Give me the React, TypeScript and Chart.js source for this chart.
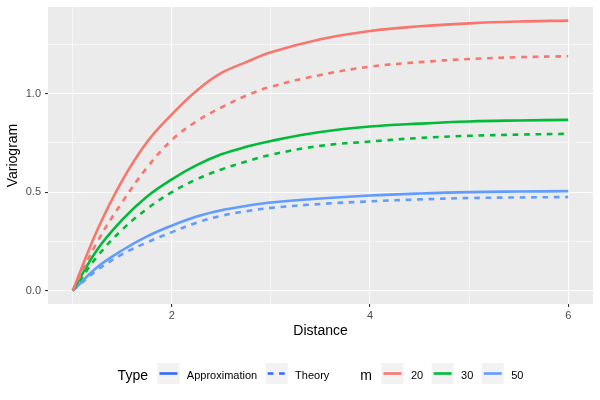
import React, { useEffect, useRef } from "react";
import { Chart, registerables } from "chart.js";

Chart.register(...registerables);

// Lag distances where the fitted variogram curves are sampled
const distance = [1, 1.25, 1.5, 1.75, 2, 2.25, 2.5, 2.75, 3, 3.5, 4, 4.5, 5, 5.5, 6];

// Variogram values per m: approximation vs. theoretical curve
const approx20 = [0, 0.31, 0.56, 0.755, 0.895, 1.015, 1.105, 1.16, 1.21, 1.276, 1.318, 1.342, 1.357, 1.366, 1.371];
const theory20 = [0, 0.25, 0.45, 0.625, 0.765, 0.86, 0.93, 0.99, 1.035, 1.095, 1.137, 1.16, 1.176, 1.185, 1.19];
const approx30 = [0, 0.21, 0.36, 0.478, 0.565, 0.637, 0.692, 0.73, 0.76, 0.805, 0.833, 0.848, 0.859, 0.864, 0.867];
const theory30 = [0, 0.175, 0.31, 0.415, 0.5, 0.565, 0.615, 0.655, 0.69, 0.735, 0.757, 0.775, 0.786, 0.792, 0.796];
const approx50 = [0, 0.12, 0.205, 0.275, 0.33, 0.376, 0.408, 0.43, 0.447, 0.468, 0.483, 0.493, 0.5, 0.503, 0.505];
const theory50 = [0, 0.105, 0.185, 0.245, 0.297, 0.345, 0.38, 0.403, 0.42, 0.44, 0.453, 0.463, 0.47, 0.473, 0.475];

const mLevels = ["20", "30", "50"];
const typeLevels = ["Approximation", "Theory"];

// Axis breaks
const xMajor = [2, 4, 6];
const xMinor = [1, 3, 5];
const xTickLabels = ["2", "4", "6"];
const yMajor = [0, 0.5, 1.0];
const yMinor = [0.25, 0.75, 1.25];
const yTickLabels = ["0.0", "0.5", "1.0"];

const mColors = ["#F8766D", "#00BA38", "#619CFF"];
const typeKeyColor = "#3366FF";
const DASH = [5.7, 5.7];
const LINE_W = 2.6;
const FONT = "'Liberation Sans', Arial, Helvetica, sans-serif";

const toPoints = (ys: number[]) => ys.map((y, i) => ({ x: distance[i], y }));

const seriesByM = [
  [approx20, theory20],
  [approx30, theory30],
  [approx50, theory50],
];

const isIn = (arr: number[], v: number) => arr.some((a) => Math.abs(a - v) < 1e-9);

// Grey panel behind the grid
const panelPlugin = {
  id: "ggPanel",
  beforeDraw(chart: any) {
    const { ctx, chartArea } = chart;
    ctx.save();
    ctx.fillStyle = "#EBEBEB";
    ctx.fillRect(chartArea.left, chartArea.top, chartArea.right - chartArea.left, chartArea.bottom - chartArea.top);
    ctx.restore();
  },
};

// Horizontal legend below the panel: "Type" linetype guide and "m" colour guide
const legendPlugin = {
  id: "ggLegend",
  afterDraw(chart: any) {
    const { ctx, chartArea } = chart;
    const titleFont = `14px ${FONT}`;
    const textFont = `11px ${FONT}`;
    const keyW = 22;
    const keyH = 21;
    const keyTop = 363;
    const keyMid = keyTop + keyH / 2;
    const titleGap = 9.5;
    const keyTextGap = 7.4;
    const pairGap = 8.5;
    const guideGap = 31;

    type Item = { label: string; color: string; dash: number[] };
    const guides: { title: string; items: Item[] }[] = [
      {
        title: "Type",
        items: typeLevels.map((t, i) => ({ label: t, color: typeKeyColor, dash: i === 1 ? DASH : [] })),
      },
      {
        title: "m",
        items: mLevels.map((m, i) => ({ label: m, color: mColors[i], dash: [] })),
      },
    ];

    ctx.save();
    const measure = (txt: string, font: string) => {
      ctx.font = font;
      return ctx.measureText(txt).width;
    };
    let total = 0;
    guides.forEach((g, gi) => {
      total += measure(g.title, titleFont) + titleGap;
      g.items.forEach((it, ii) => {
        total += keyW + keyTextGap + measure(it.label, textFont);
        if (ii < g.items.length - 1) total += pairGap;
      });
      if (gi < guides.length - 1) total += guideGap;
    });

    let x = (chartArea.left + chartArea.right) / 2 - total / 2;
    ctx.textAlign = "left";
    ctx.textBaseline = "alphabetic";
    guides.forEach((g, gi) => {
      ctx.font = titleFont;
      ctx.fillStyle = "#000000";
      ctx.fillText(g.title, x, 380);
      x += measure(g.title, titleFont) + titleGap;
      g.items.forEach((it, ii) => {
        ctx.fillStyle = "#F2F2F2";
        ctx.fillRect(x, keyTop, keyW, keyH);
        ctx.beginPath();
        ctx.setLineDash(it.dash);
        ctx.strokeStyle = it.color;
        ctx.lineWidth = LINE_W;
        ctx.moveTo(x + 2, keyMid);
        ctx.lineTo(x + keyW - 2, keyMid);
        ctx.stroke();
        ctx.setLineDash([]);
        x += keyW + keyTextGap;
        ctx.font = textFont;
        ctx.fillStyle = "#000000";
        ctx.fillText(it.label, x, 378.5);
        x += measure(it.label, textFont);
        if (ii < g.items.length - 1) x += pairGap;
      });
      if (gi < guides.length - 1) x += guideGap;
    });
    ctx.restore();
  },
};

export default function App() {
  const canvasRef = useRef<HTMLCanvasElement | null>(null);

  useEffect(() => {
    if (!canvasRef.current) return;

    const datasets: any[] = [];
    seriesByM.forEach((pair, mi) => {
      pair.forEach((ys, ti) => {
        datasets.push({
          label: `${typeLevels[ti]} m=${mLevels[mi]}`,
          data: toPoints(ys),
          borderColor: mColors[mi],
          backgroundColor: mColors[mi],
          borderWidth: LINE_W,
          borderDash: ti === 1 ? DASH : [],
          pointRadius: 0,
          tension: 0.4,
          fill: false,
        });
      });
    });

    const gridOpts = (major: number[]) => ({
      color: "#FFFFFF",
      lineWidth: (c: any) => (c.tick && isIn(major, c.tick.value) ? 1.1 : 0.55),
      drawTicks: true,
      tickLength: 3,
      tickWidth: (c: any) => (c.tick && isIn(major, c.tick.value) ? 1.1 : 0),
      tickColor: (c: any) => (c.tick && isIn(major, c.tick.value) ? "#333333" : "rgba(0,0,0,0)"),
    });

    const chart = new Chart(canvasRef.current, {
      type: "line",
      data: { datasets },
      plugins: [panelPlugin, legendPlugin],
      options: {
        responsive: false,
        animation: false,
        layout: { padding: { top: 7, right: 7, left: 0, bottom: 58 } },
        plugins: {
          legend: { display: false },
          tooltip: { enabled: false },
        },
        scales: {
          x: {
            type: "linear",
            min: 0.75,
            max: 6.25,
            afterBuildTicks: (s: any) => {
              s.ticks = [...xMinor, ...xMajor].sort((a, b) => a - b).map((v) => ({ value: v }));
            },
            afterFit: (s: any) => {
              s.height = 38;
              s.paddingLeft = 0;
              s.paddingRight = 0;
            },
            border: { display: false },
            grid: gridOpts(xMajor),
            ticks: {
              autoSkip: false,
              maxRotation: 0,
              padding: 2,
              color: "#4D4D4D",
              font: { family: FONT, size: 11 },
              callback: (v: any) => {
                const i = xMajor.findIndex((m) => Math.abs(m - Number(v)) < 1e-9);
                return i >= 0 ? xTickLabels[i] : "";
              },
            },
            title: {
              display: true,
              text: "Distance",
              color: "#000000",
              font: { family: FONT, size: 14 },
              padding: { top: 0, bottom: 2 },
            },
          },
          y: {
            type: "linear",
            min: -0.068,
            max: 1.44,
            afterBuildTicks: (s: any) => {
              s.ticks = [...yMinor, ...yMajor].sort((a, b) => a - b).map((v) => ({ value: v }));
            },
            afterFit: (s: any) => {
              s.width = 48;
              s.paddingTop = 0;
              s.paddingBottom = 0;
            },
            border: { display: false },
            grid: gridOpts(yMajor),
            ticks: {
              autoSkip: false,
              padding: 4,
              color: "#4D4D4D",
              font: { family: FONT, size: 11 },
              callback: (v: any) => {
                const i = yMajor.findIndex((m) => Math.abs(m - Number(v)) < 1e-9);
                return i >= 0 ? yTickLabels[i] : "";
              },
            },
            title: {
              display: true,
              text: "Variogram",
              color: "#000000",
              font: { family: FONT, size: 14 },
              padding: { top: 5, bottom: 0 },
            },
          },
        },
      },
    } as any);

    return () => chart.destroy();
  }, []);

  return (
    <div style={{ position: "fixed", left: 0, top: 0, width: 600, height: 400, background: "#FFFFFF" }}>
      <canvas ref={canvasRef} width={600} height={400} style={{ display: "block" }} />
    </div>
  );
}
